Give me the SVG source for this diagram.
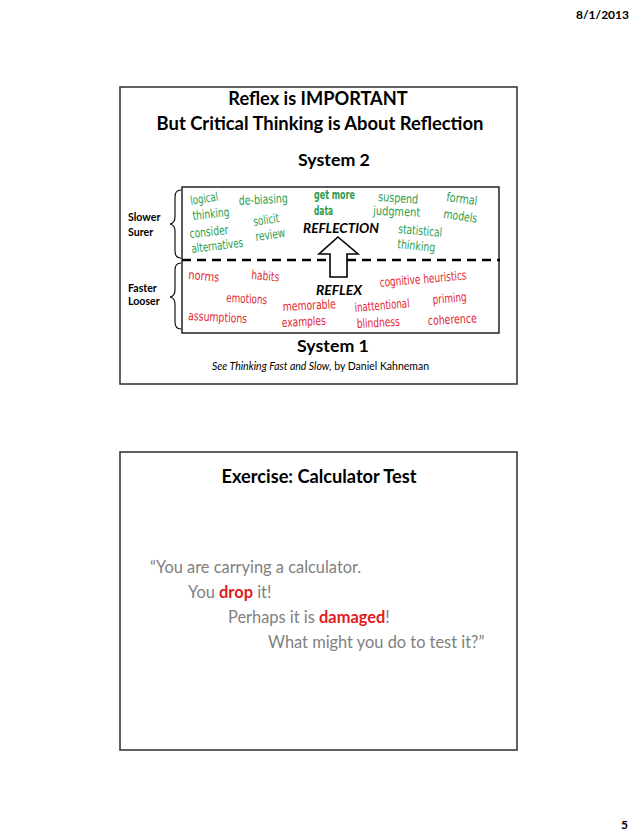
<svg xmlns="http://www.w3.org/2000/svg" width="638" height="838" viewBox="0 0 638 838">
<style>
.frame{fill:#fff;stroke:#3a3a3a;stroke-width:1.6}
.t{font-family:Lato,"Open Sans","Liberation Sans",sans-serif;fill:#000}
.b{font-weight:bold}
.hw{font-family:"DejaVu Sans Condensed","DejaVu Sans",Lato,sans-serif;font-size:12.5px;font-stretch:condensed}
.g{fill:#2a9d4e}
.r{fill:#e42530}
.q{font-family:Lato,"Open Sans","Liberation Sans",sans-serif;font-size:16.4px;fill:#808080}
.red{fill:#e21b22;font-weight:bold}
.brace{fill:none;stroke:#000;stroke-width:1.1}
</style>
<rect width="638" height="838" fill="#fff"/>
<g id="date"><text class="t b" x="629" y="19" font-size="12" text-anchor="end">8/1/2013</text></g>
<g id="page"><text class="t b" x="628" y="829" font-size="12" text-anchor="end">5</text></g>

<g id="slide1">
<rect class="frame" x="120" y="87" width="397" height="297"/>
<text class="t b" x="318" y="105" font-size="18.2" text-anchor="middle">Reflex is IMPORTANT</text>
<text class="t b" x="320" y="130" font-size="18.4" text-anchor="middle">But Critical Thinking is About Reflection</text>
<text class="t b" x="334" y="166" font-size="17.8" text-anchor="middle">System 2</text>
<text class="t b" x="333" y="352" font-size="17.8" text-anchor="middle">System 1</text>
<text class="t" x="212" y="370" font-size="10.5"><tspan font-style="italic">See Thinking Fast and Slow,</tspan> by Daniel Kahneman</text>
</g>

<g id="systems-box">
<rect x="182" y="187" width="317" height="146" fill="none" stroke="#000" stroke-width="1.3"/>
<line x1="182" y1="260" x2="500" y2="260" stroke="#000" stroke-width="2.6" stroke-dasharray="9 6"/>
</g>

<g id="labels-left">
<text class="t b" x="128" y="221" font-size="10.6">Slower</text>
<text class="t b" x="128" y="236" font-size="10.6">Surer</text>
<text class="t b" x="128" y="292" font-size="10.6">Faster</text>
<text class="t b" x="128" y="305" font-size="10.6">Looser</text>
<path class="brace" d="M181,190 Q175,190 175,197 L175,217 Q175,223 170,224 Q175,225 175,231 L175,251 Q175,258 181,258"/>
<path class="brace" d="M181,263 Q175,263 175,270 L175,290 Q175,296 170,297 Q175,298 175,304 L175,322 Q175,329 181,329"/>
</g>

<g id="arrow">
<path d="M338,237 L358,254 L347,254 L347,277 L330,277 L330,254 L319,254 Z" fill="#fff" stroke="#000" stroke-width="1.6" stroke-linejoin="miter"/>
</g>

<g id="reflection">
<text class="t b" x="303" y="233" font-size="13.5" font-style="italic" textLength="76" lengthAdjust="spacingAndGlyphs">REFLECTION</text>
</g>
<g id="reflex">
<text class="t b" x="316" y="295" font-size="13.5" font-style="italic" textLength="46" lengthAdjust="spacingAndGlyphs">REFLEX</text>
</g>

<g id="system2-words">
<text class="hw g" transform="translate(191,205) rotate(-9)" textLength="28" lengthAdjust="spacingAndGlyphs">logical</text>
<text class="hw g" transform="translate(193,220) rotate(-6)" textLength="37" lengthAdjust="spacingAndGlyphs">thinking</text>
<text class="hw g" transform="translate(190,238) rotate(-6)" textLength="39" lengthAdjust="spacingAndGlyphs">consider</text>
<text class="hw g" transform="translate(192,253) rotate(-7)" textLength="52" lengthAdjust="spacingAndGlyphs">alternatives</text>
<text class="hw g" transform="translate(239,205) rotate(-3)" textLength="49" lengthAdjust="spacingAndGlyphs">de-biasing</text>
<text class="hw g" transform="translate(254,226) rotate(-9)" textLength="26" lengthAdjust="spacingAndGlyphs">solicit</text>
<text class="hw g" transform="translate(256,241) rotate(-8)" textLength="30" lengthAdjust="spacingAndGlyphs">review</text>
<text class="hw g b" x="314" y="199" textLength="41" lengthAdjust="spacingAndGlyphs">get more</text>
<text class="hw g b" x="314" y="215" textLength="19" lengthAdjust="spacingAndGlyphs">data</text>
<text class="hw g" transform="translate(378,201) rotate(4)" textLength="40" lengthAdjust="spacingAndGlyphs">suspend</text>
<text class="hw g" transform="translate(373,215) rotate(2)" textLength="47" lengthAdjust="spacingAndGlyphs">judgment</text>
<text class="hw g" transform="translate(446,201) rotate(8)" textLength="31" lengthAdjust="spacingAndGlyphs">formal</text>
<text class="hw g" transform="translate(443,218) rotate(8)" textLength="34" lengthAdjust="spacingAndGlyphs">models</text>
<text class="hw g" transform="translate(398,233) rotate(5)" textLength="44" lengthAdjust="spacingAndGlyphs">statistical</text>
<text class="hw g" transform="translate(397,248) rotate(6)" textLength="38" lengthAdjust="spacingAndGlyphs">thinking</text>
</g>

<g id="system1-words">
<text class="hw r" transform="translate(188,279) rotate(5)" textLength="31" lengthAdjust="spacingAndGlyphs">norms</text>
<text class="hw r" transform="translate(251,279) rotate(5)" textLength="28" lengthAdjust="spacingAndGlyphs">habits</text>
<text class="hw r" transform="translate(226,302) rotate(3)" textLength="41" lengthAdjust="spacingAndGlyphs">emotions</text>
<text class="hw r" transform="translate(188,320) rotate(3)" textLength="59" lengthAdjust="spacingAndGlyphs">assumptions</text>
<text class="hw r" transform="translate(283,311) rotate(-3)" textLength="53" lengthAdjust="spacingAndGlyphs">memorable</text>
<text class="hw r" transform="translate(282,327) rotate(-3)" textLength="44" lengthAdjust="spacingAndGlyphs">examples</text>
<text class="hw r" transform="translate(380,287) rotate(-5)" textLength="87" lengthAdjust="spacingAndGlyphs">cognitive heuristics</text>
<text class="hw r" transform="translate(355,312) rotate(-5)" textLength="55" lengthAdjust="spacingAndGlyphs">inattentional</text>
<text class="hw r" transform="translate(357,328) rotate(-3)" textLength="43" lengthAdjust="spacingAndGlyphs">blindness</text>
<text class="hw r" transform="translate(433,304) rotate(-5)" textLength="34" lengthAdjust="spacingAndGlyphs">priming</text>
<text class="hw r" transform="translate(428,325) rotate(-3)" textLength="49" lengthAdjust="spacingAndGlyphs">coherence</text>
</g>

<g id="slide2">
<rect class="frame" x="120" y="452" width="397" height="298"/>
<text class="t b" x="319" y="483" font-size="18.2" text-anchor="middle">Exercise: Calculator Test</text>
<text class="q" x="150" y="573">“You are carrying a calculator.</text>
<text class="q" x="188" y="598">You <tspan class="red">drop</tspan> it!</text>
<text class="q" x="228" y="623">Perhaps it is <tspan class="red">damaged</tspan>!</text>
<text class="q" x="268" y="648">What might you do to test it?”</text>
</g>
</svg>
